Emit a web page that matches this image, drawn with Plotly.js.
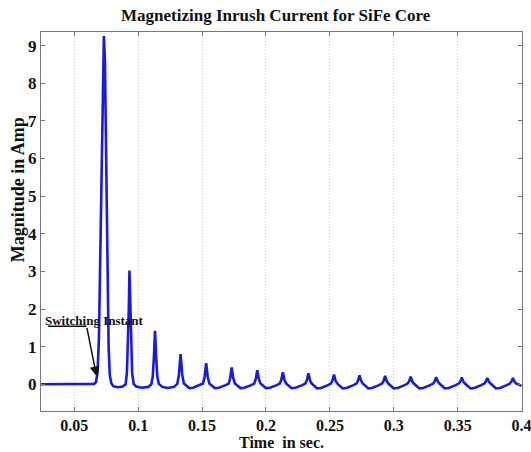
<!DOCTYPE html>
<html>
<head>
<meta charset="utf-8">
<script src="https://cdn.plot.ly/plotly-3.0.1.min.js"></script>
<style>html,body{margin:0;padding:0;background:#fff;}#chart{width:531px;height:452px;}</style>
</head>
<body>
<div id="chart"></div>
<script>
// Time samples (s) and current (A)
var timeSec = [
  0.024, 0.040, 0.060, 0.0655, 0.0670, 0.0682, 0.0693, 0.0704, 0.0715, 0.0725, 0.0732,
  0.0740, 0.0750, 0.0760, 0.0769, 0.0778, 0.0790, 0.0805, 0.0840, 0.0880, 0.0902,
  0.0912, 0.0920, 0.0927, 0.0932, 0.0938, 0.0945, 0.0953, 0.0965,
  0.0985, 0.1030, 0.1080, 0.1103,
  0.1114, 0.1123, 0.1132, 0.1141, 0.1150, 0.1162,
  0.1190, 0.1230, 0.1280, 0.1306,
  0.1319, 0.1332, 0.1345, 0.1358,
  0.1400, 0.1430, 0.1480, 0.1507,
  0.1520, 0.1532, 0.1544, 0.1557,
  0.1600, 0.1630, 0.1680, 0.1708,
  0.1720, 0.1732, 0.1744, 0.1757,
  0.1800, 0.1830, 0.1880, 0.1908,
  0.1920, 0.1932, 0.1944, 0.1957,
  0.2000, 0.2030, 0.2080, 0.2108,
  0.2120, 0.2132, 0.2144, 0.2157,
  0.2200, 0.2230, 0.2280, 0.2308,
  0.2320, 0.2332, 0.2344, 0.2357,
  0.2400, 0.2430, 0.2480, 0.2508,
  0.2520, 0.2532, 0.2544, 0.2557,
  0.2600, 0.2630, 0.2680, 0.2708,
  0.2720, 0.2732, 0.2744, 0.2757,
  0.2800, 0.2830, 0.2880, 0.2908,
  0.2920, 0.2932, 0.2944, 0.2957,
  0.3000, 0.3030, 0.3080, 0.3108,
  0.3120, 0.3132, 0.3144, 0.3157,
  0.3200, 0.3230, 0.3280, 0.3308,
  0.3320, 0.3332, 0.3344, 0.3357,
  0.3400, 0.3430, 0.3480, 0.3508,
  0.3520, 0.3532, 0.3544, 0.3557,
  0.3600, 0.3630, 0.3680, 0.3708,
  0.3720, 0.3732, 0.3744, 0.3757,
  0.3800, 0.3830, 0.3880, 0.3908,
  0.3920, 0.3932, 0.3944, 0.3957,
  0.4000
];
var currentAmp = [
  0.00, 0.00, 0.00, 0.01, 0.06, 0.30, 1.20, 3.50, 6.50, 8.90, 9.25,
  8.60, 6.00, 3.00, 1.00, 0.25, 0.03, -0.05, -0.08, -0.06, 0.00,
  0.30, 1.00, 2.00, 3.02, 2.00, 1.00, 0.30, 0.01,
  -0.06, -0.09, -0.07, 0.00,
  0.20, 0.70, 1.42, 0.70, 0.20, 0.01,
  -0.07, -0.10, -0.07, 0.01,
  0.25, 0.80, 0.25, 0.02,
  -0.10, -0.09, -0.03, 0.02,
  0.20, 0.56, 0.20, 0.02,
  -0.10, -0.09, -0.03, 0.02,
  0.16, 0.45, 0.16, 0.02,
  -0.10, -0.09, -0.03, 0.02,
  0.14, 0.37, 0.14, 0.02,
  -0.10, -0.09, -0.03, 0.02,
  0.12, 0.32, 0.12, 0.02,
  -0.10, -0.09, -0.03, 0.02,
  0.11, 0.29, 0.11, 0.02,
  -0.11, -0.10, -0.03, 0.02,
  0.10, 0.26, 0.10, 0.02,
  -0.11, -0.10, -0.03, 0.02,
  0.10, 0.24, 0.10, 0.02,
  -0.11, -0.10, -0.03, 0.02,
  0.09, 0.22, 0.09, 0.02,
  -0.11, -0.10, -0.03, 0.02,
  0.08, 0.20, 0.08, 0.02,
  -0.11, -0.10, -0.03, 0.02,
  0.08, 0.19, 0.08, 0.02,
  -0.11, -0.10, -0.03, 0.02,
  0.07, 0.18, 0.07, 0.02,
  -0.11, -0.10, -0.03, 0.02,
  0.07, 0.17, 0.07, 0.02,
  -0.11, -0.10, -0.03, 0.02,
  0.07, 0.17, 0.07, 0.02,
  -0.04
];
var xTickVals = [0.05, 0.1, 0.15, 0.2, 0.25, 0.3, 0.35, 0.4];
var xTickText = ['0.05', '0.1', '0.15', '0.2', '0.25', '0.3', '0.35', '0.4'];
var yTickVals = [0, 1, 2, 3, 4, 5, 6, 7, 8, 9];
var yTickText = ['0', '1', '2', '3', '4', '5', '6', '7', '8', '9'];
var titleText = 'Magnetizing Inrush Current for SiFe Core';
var xTitle = 'Time\u00a0 in sec.';
var yTitle = 'Magnitude in Amp';
var noteText = 'Switching Instant';
var arrowTip = [0.0675, 0.21];
var arrowTail = [0.0597, 1.54];
var underlineStart = 0.0295;

var serif = 'Liberation Serif, Times New Roman, serif';

Plotly.newPlot('chart', [{
  x: timeSec, y: currentAmp, type: 'scatter', mode: 'lines',
  line: {color: 'rgb(25,25,225)', width: 2.6, shape: 'linear'},
  hoverinfo: 'skip'
}], {
  width: 531, height: 452,
  margin: {l: 41, r: 8.5, t: 32, b: 40.5},
  paper_bgcolor: '#fff', plot_bgcolor: '#fff',
  showlegend: false,
  title: {text: titleText, xref: 'paper', x: 0.488, xanchor: 'center', yref: 'container', y: 0.966, yanchor: 'middle',
          font: {family: serif, size: 17, color: '#111', weight: 'bold'}},
  xaxis: {
    range: [0.024, 0.4003], tickvals: xTickVals, ticktext: xTickText,
    showgrid: true, gridcolor: '#cfcfcf', griddash: '1px,2px', gridwidth: 1,
    zeroline: false, showline: true, linecolor: '#777', linewidth: 1, mirror: 'ticks',
    ticks: 'inside', ticklen: 4, tickcolor: '#777', ticklabeloverflow: 'allow',
    tickfont: {family: serif, size: 16, color: '#111', weight: 'bold'}
  },
  yaxis: {
    range: [-0.71, 9.36], tickvals: yTickVals, ticktext: yTickText,
    showgrid: false, zeroline: false, showline: true, linecolor: '#777', linewidth: 1, mirror: 'ticks',
    ticks: 'inside', ticklen: 4, tickcolor: '#777',
    tickfont: {family: serif, size: 17, color: '#111', weight: 'bold'}
  },
  shapes: [{
    type: 'line', xref: 'x', yref: 'y',
    x0: underlineStart, y0: arrowTail[1], x1: arrowTail[0], y1: arrowTail[1],
    line: {color: '#111', width: 1.5}
  }],
  annotations: [{
    x: arrowTip[0], y: arrowTip[1], ax: arrowTail[0], ay: arrowTail[1],
    xref: 'x', yref: 'y', axref: 'x', ayref: 'y',
    showarrow: true, arrowhead: 2, arrowsize: 1.3, arrowwidth: 1.5, arrowcolor: '#111', text: ''
  }, {
    x: 0.0655, y: 1.70, xref: 'x', yref: 'y', showarrow: false, text: noteText,
    font: {family: serif, size: 13, color: '#111', weight: 'bold'}
  }, {
    x: 0.5, y: 0, xref: 'paper', yref: 'paper', xanchor: 'center', yanchor: 'top',
    yshift: -21, showarrow: false, text: xTitle,
    font: {family: serif, size: 16, color: '#111', weight: 'bold'}
  }, {
    x: -0.048, y: 0.585, xref: 'paper', yref: 'paper', xanchor: 'center', yanchor: 'middle',
    textangle: -90, showarrow: false, text: yTitle,
    font: {family: serif, size: 18, color: '#111', weight: 'bold'}
  }]
}, {displayModeBar: false, staticPlot: true});
</script>
</body>
</html>
